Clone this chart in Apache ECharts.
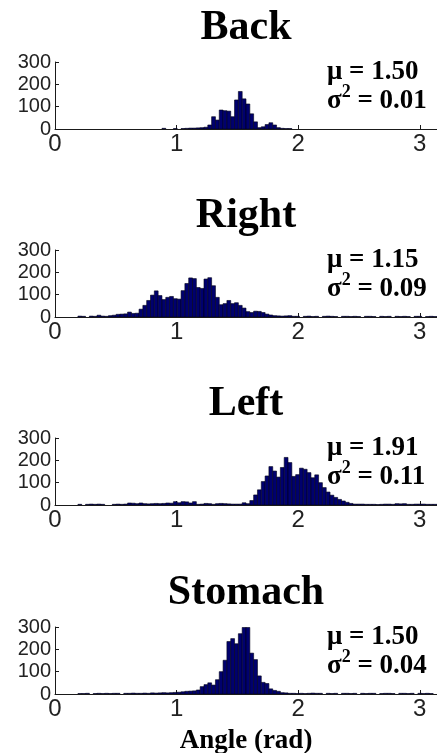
<!DOCTYPE html>
<html><head><meta charset="utf-8">
<script src="https://cdn.jsdelivr.net/npm/echarts@6/dist/echarts.min.js"></script>
<style>html,body{margin:0;padding:0;background:#fff}#c{width:437px;height:753px}</style>
</head><body><div id="c"></div>
<script>
// ---- data ----
const panelTitles = ['Back', 'Right', 'Left', 'Stomach'];
const muLabels = ['1.50', '1.15', '1.91', '1.50'];
const varLabels = ['0.01', '0.09', '0.11', '0.04'];
const xTicks = [0, 1, 2, 3];
const yTicks = [0, 100, 200, 300];
const xAxisName = 'Angle (rad)';
const binCount = 100;          // histogram bins spanning 0 .. pi

const backCounts = [
  0,0,0,0,0,0,0,0,0,0,
  0,0,0,0,0,0,0,0,0,0,
  0,0,0,0,0,0,0,0,3,0,
  0,2,0,2,3,4,4,5,6,8,
  18,55,40,85,82,80,55,130,168,135,
  112,68,32,6,10,20,28,18,6,3,
  2,2,0,0,0,0,0,0,0,0,
  0,0,0,0,0,0,0,0,0,0,
  0,0,0,0,0,0,0,0,0,0,
  0,0,0,0,0,0,0,0,0,0
];
const rightCounts = [
  0,0,0,0,0,0,4,3,0,4,
  3,8,4,3,6,8,12,13,14,22,
  16,17,35,52,74,98,117,96,78,88,
  92,82,80,118,150,175,172,132,128,170,
  176,140,88,55,60,74,60,64,52,40,
  24,20,26,25,20,13,9,6,5,4,
  5,6,3,3,0,3,4,2,3,0,
  3,4,3,2,0,3,3,2,3,2,
  0,3,3,2,0,3,2,3,0,3,
  2,3,2,0,3,3,0,2,3,2
];
const leftCounts = [
  0,0,0,0,0,0,3,0,3,4,
  3,4,3,0,0,3,4,3,4,9,
  8,6,9,6,5,6,7,6,7,9,
  8,15,10,15,14,9,15,3,4,7,
  6,3,6,7,6,5,4,4,4,10,
  6,20,45,68,105,130,172,152,125,168,
  213,190,128,136,165,160,145,122,135,100,
  78,58,44,34,25,18,12,7,4,4,
  4,3,3,3,2,3,4,4,3,6,
  5,6,3,3,4,4,4,3,3,3
];
const stomachCounts = [
  0,0,0,0,0,0,2,2,3,0,
  2,3,2,3,2,3,3,0,3,3,
  4,3,3,4,3,5,4,5,6,5,
  6,7,8,10,12,13,14,18,33,42,
  50,40,64,100,151,235,248,225,270,298,
  298,183,154,81,52,47,23,16,12,6,
  5,3,3,2,3,2,3,4,3,3,
  0,3,2,3,0,3,3,2,3,0,
  3,2,3,3,0,2,3,3,2,0,
  3,3,2,3,0,3,2,3,2,0
];
const panelCounts = [backCounts, rightCounts, leftCounts, stomachCounts];

// ---- layout ----
const xMax = Math.PI;
const binW = xMax / binCount;
const gridLeft = 55, gridWidth = 382, gridHeight = 67;
const gridTops = [62, 250, 438, 627];
const serif = '"Liberation Serif", "Times New Roman", serif';
const sans = '"Liberation Sans", Arial, sans-serif';
const axisColor = '#1a1a1a';

const grids = [], xAxes = [], yAxes = [], series = [], graphics = [];
gridTops.forEach((top, i) => {
  grids.push({ left: gridLeft, top: top, width: gridWidth, height: gridHeight, containLabel: false });
  xAxes.push({
    gridIndex: i, type: 'value', min: 0, max: xMax,
    axisLine: { show: true, onZero: false, lineStyle: { color: axisColor, width: 1 } },
    axisTick: { show: true, inside: true, length: 4, customValues: xTicks, lineStyle: { color: axisColor } },
    axisLabel: { show: true, customValues: xTicks, fontFamily: sans, fontSize: 24, color: '#222', margin: 3,
                 formatter: v => String(v) },
    splitLine: { show: false }
  });
  yAxes.push({
    gridIndex: i, type: 'value', min: 0, max: 300, interval: 100,
    axisLine: { show: true, lineStyle: { color: axisColor, width: 1 } },
    axisTick: { show: true, inside: true, length: 4, lineStyle: { color: axisColor } },
    axisLabel: { show: true, fontFamily: sans, fontSize: 20, color: '#222', margin: 4 },
    splitLine: { show: false }
  });
  const data = [];
  panelCounts[i].forEach((c, k) => { if (c > 0) data.push([k * binW, (k + 1) * binW, c]); });
  series.push({
    type: 'custom', xAxisIndex: i, yAxisIndex: i, data: data,
    encode: { x: [0, 1], y: 2 },
    clip: true,
    renderItem: (params, api) => {
      const p0 = api.coord([api.value(0), api.value(2)]);
      const p1 = api.coord([api.value(1), 0]);
      return { type: 'rect', shape: { x: p0[0], y: p0[1], width: p1[0] - p0[0], height: p1[1] - p0[1] },
               style: { fill: '#00006e', stroke: '#000018', lineWidth: 0.6 } };
    }
  });
  const base = top + gridHeight;
  graphics.push({
    type: 'text', x: gridLeft + gridWidth / 2, y: base - 101,
    style: { text: panelTitles[i], font: 'bold 42px ' + serif, fill: '#000', align: 'center', verticalAlign: 'middle' }
  });
  graphics.push({
    type: 'text', x: 327, y: base - 57,
    style: { text: 'μ = ' + muLabels[i], font: 'bold 27px ' + serif, fill: '#000', verticalAlign: 'middle' }
  });
  graphics.push({
    type: 'text', x: 327, y: base - 28,
    style: {
      text: '{s|σ}{sup|2}{s| = ' + varLabels[i] + '}',
      verticalAlign: 'middle',
      rich: {
        s: { fontFamily: serif, fontWeight: 'bold', fontSize: 27, lineHeight: 28, fill: '#000' },
        sup: { fontFamily: serif, fontWeight: 'bold', fontSize: 18, lineHeight: 36, verticalAlign: 'top', fill: '#000' }
      }
    }
  });
});
graphics.push({
  type: 'text', x: gridLeft + gridWidth / 2, y: 741,
  style: { text: xAxisName, font: 'bold 27px ' + serif, fill: '#000', align: 'center', verticalAlign: 'middle' }
});

const chart = echarts.init(document.getElementById('c'), null, { renderer: 'canvas' });
chart.setOption({
  animation: false,
  backgroundColor: '#fff',
  grid: grids, xAxis: xAxes, yAxis: yAxes, series: series, graphic: graphics
});
</script>
</body></html>
